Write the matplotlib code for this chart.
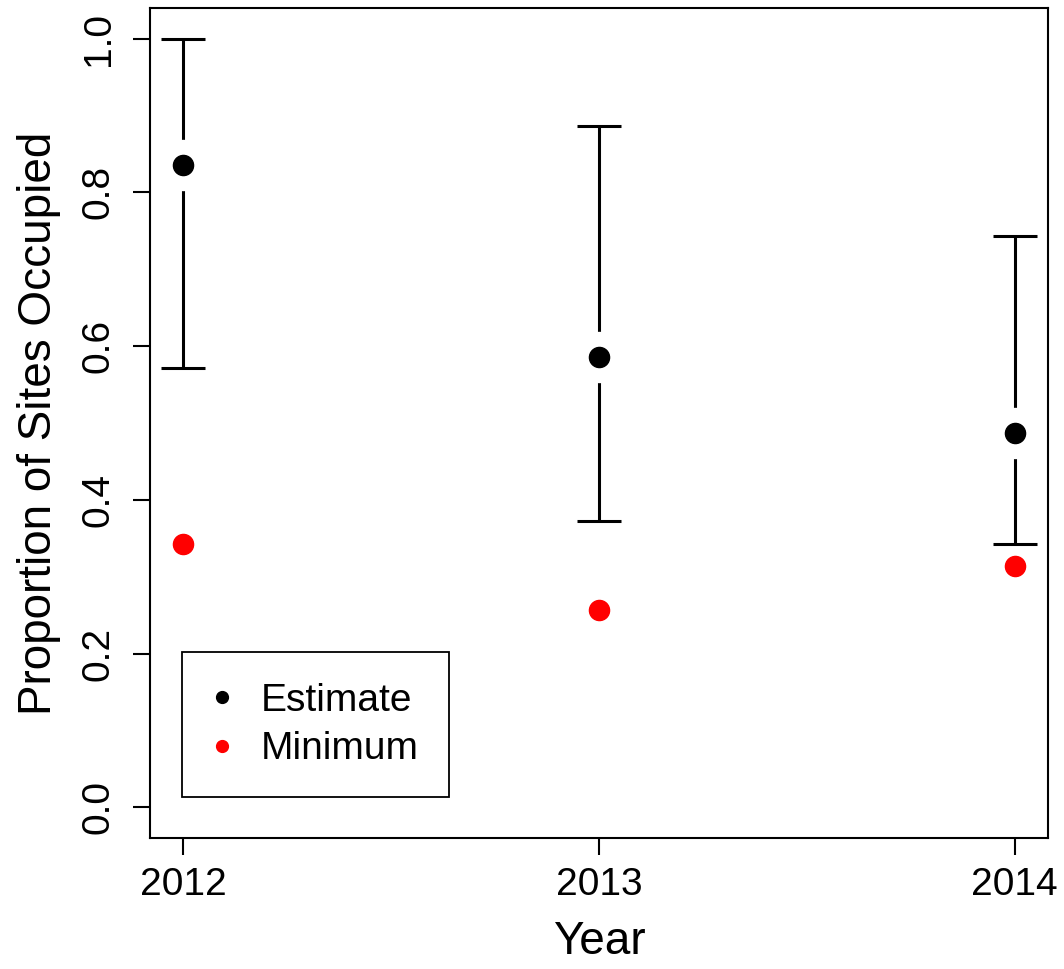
import matplotlib.pyplot as plt
import numpy as np

plt.rcParams['font.family'] = ['Liberation Sans', 'DejaVu Sans']

# occupancy estimates per year with confidence limits, plus naive minimum
years = [2012, 2013, 2014]
estimate = [0.835, 0.586, 0.487]
lower = [0.571, 0.373, 0.343]
upper = [1.000, 0.886, 0.743]
minimum = [0.343, 0.257, 0.314]

fig = plt.figure(figsize=(10.64, 9.69), dpi=100)
ax = fig.add_axes([0.141, 0.135, 0.844, 0.857])

est = np.array(estimate)
yerr = [est - np.array(lower), np.array(upper) - est]
ax.errorbar(years, estimate, yerr=yerr, fmt='none', ecolor='black',
            elinewidth=2.2, capsize=16, capthick=2.2, zorder=2)

# white halo so the bars break around each estimate
ax.plot(years, estimate, 'o', color='white', markersize=36, zorder=3)
ax.plot(years, estimate, 'o', color='black', markersize=14.5, zorder=4)
ax.plot(years, minimum, 'o', color='red', markersize=14.5, zorder=4)

ax.set_xlim(2011.92, 2014.08)
ax.set_ylim(-0.04, 1.04)
ax.set_xticks(years)
ax.set_xticklabels([str(y) for y in years])
ax.set_yticks([0.0, 0.2, 0.4, 0.6, 0.8, 1.0])
ax.set_yticklabels(['0.0', '0.2', '0.4', '0.6', '0.8', '1.0'], rotation=90, va='center')
ax.tick_params(axis='both', length=12, width=1.5, labelsize=28)
ax.tick_params(axis='x', pad=9)
ax.tick_params(axis='y', pad=12)
for s in ax.spines.values():
    s.set_linewidth(1.5)

ax.set_xlabel('Year', fontsize=33, labelpad=12)
ax.set_ylabel('Proportion of Sites Occupied', fontsize=33, labelpad=14)

h1, = ax.plot([], [], 'o', color='black', markersize=8.5)
h2, = ax.plot([], [], 'o', color='red', markersize=8.5)
leg = ax.legend([h1, h2], ['Estimate', 'Minimum'], loc='lower left',
                bbox_to_anchor=(0.0356, 0.049), fontsize=28, fancybox=False,
                edgecolor='black', framealpha=1, borderpad=0.78,
                handletextpad=0.75, labelspacing=0.32, handlelength=0.5,
                borderaxespad=0)
leg.get_frame().set_linewidth(1.3)

fig.savefig('out.png', dpi=100)
